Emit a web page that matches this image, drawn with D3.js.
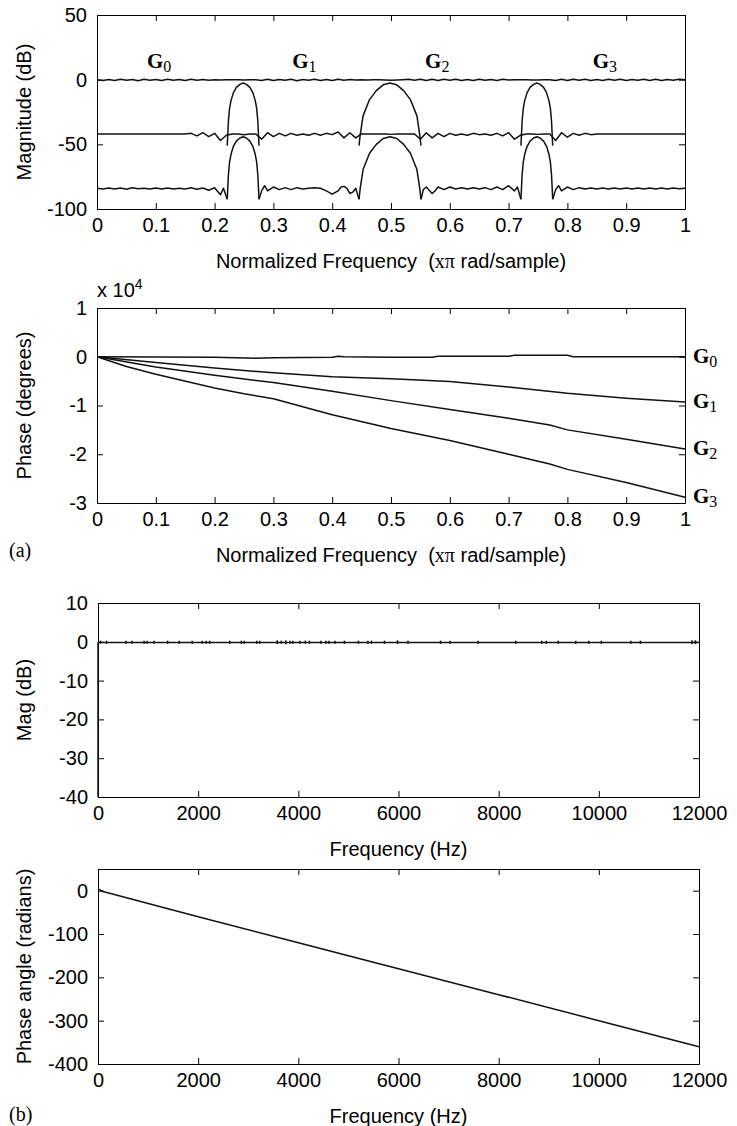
<!DOCTYPE html>
<html>
<head>
<meta charset="utf-8">
<script src="https://cdn.jsdelivr.net/npm/d3@7"></script>
<style>
  body { margin: 0; background: #fff; }
  svg { display: block; font-family: "Liberation Sans", Arial, Helvetica, sans-serif; }
  .axis text { font-size: 20px; fill: #000; }
  .axis path, .axis line { stroke: #000; stroke-width: 1; }
  .curve { fill: none; stroke: #111; stroke-width: 1.5; stroke-linejoin: round; }
  .title { font-size: 20px; fill: #000; white-space: pre; }
  .glab { font-family: "Liberation Serif", "Times New Roman", serif; fill: #000; }
</style>
</head>
<body>
<div id="chart"></div>
<script>

// ---------- (a) top: magnitude of G0..G3 ----------
var normTicks = [0, 0.1, 0.2, 0.3, 0.4, 0.5, 0.6, 0.7, 0.8, 0.9, 1];
var magTicks = [50, 0, -50, -100];

var normFreq = [0,0.01,0.02,0.03,0.04,0.05,0.06,0.07,0.08,0.09,
  0.1,0.11,0.12,0.13,0.14,0.15,0.16,0.17,0.18,0.19,
  0.2,0.21,0.22,0.23,0.24,0.25,0.26,0.27,0.28,0.29,
  0.3,0.31,0.32,0.33,0.34,0.35,0.36,0.37,0.38,0.39,
  0.4,0.41,0.42,0.43,0.44,0.45,0.46,0.47,0.48,0.49,
  0.5,0.51,0.52,0.53,0.54,0.55,0.56,0.57,0.58,0.59,
  0.6,0.61,0.62,0.63,0.64,0.65,0.66,0.67,0.68,0.69,
  0.7,0.71,0.72,0.73,0.74,0.75,0.76,0.77,0.78,0.79,
  0.8,0.81,0.82,0.83,0.84,0.85,0.86,0.87,0.88,0.89,
  0.9,0.91,0.92,0.93,0.94,0.95,0.96,0.97,0.98,0.99,1];

// passband level (0 dB) with ripple
var magTop = [0,-0.6,0.2,-0.7,0.3,-0.5,0.2,-0.8,0.3,-0.4,
  0.2,-0.7,0.3,-0.5,0.2,-0.7,0.3,-0.5,0.1,-0.4,
  0,-0.2,0,0,-0.1,-0.3,-0.1,0,-0.6,0.3,
  -0.7,0.2,-0.5,0.3,-0.8,0.2,-0.5,0.3,-0.6,0.2,
  -0.7,0.3,-0.5,0.2,-0.3,0,-0.2,-0.1,0,-0.2,
  -0.4,-0.2,0,0.3,-0.5,0.3,-0.6,0.4,-0.7,0.3,
  -0.5,0.3,-0.7,0.2,-0.6,0.4,-0.5,0.2,-0.6,0.3,
  -0.3,0,-0.1,0,-0.2,-0.3,-0.1,0,-0.6,0.3,
  -0.7,0.4,-0.5,0.3,-0.7,0.2,-0.6,0.4,-0.5,0.3,
  -0.7,0.2,-0.5,0.4,-0.6,0.3,-0.7,0.2,-0.5,0.3,0];

// middle level (about -42 dB)
var magMid = [-42,-42,-42,-42,-42,-42,-42,-42,-42,-42,
  -42,-42,-42,-42,-42,-42,-41.5,-43.5,-41,-44,
  -41.5,-47,-43,-42,-42,-42.5,-42,-42,-46,-41,
  -44,-41.5,-43.5,-41.5,-43,-42,-43,-41.5,-43,-41.5,
  -42.5,-40.5,-45,-41,-45,-42,-42,-42,-42,-42,
  -42.3,-42,-42,-42,-42,-46,-41,-45,-41.5,-44,
  -41.5,-43,-42,-43,-41.5,-42.5,-42,-43,-41.5,-43.5,
  -41,-46,-43,-42,-42,-42.3,-42,-42,-47,-41,
  -44.5,-41.5,-43,-41.5,-42.5,-42,-42,-42,-42,-42,
  -42,-42,-42,-42,-42,-42,-42,-42,-42,-42,-42];

// lowest level (about -84 dB), broken by the lobes
var magLowA = [[0,-84],[0.01,-84.6],[0.02,-83.7],[0.03,-84.5],[0.04,-83.8],[0.05,-84.7],
  [0.06,-83.6],[0.07,-84.4],[0.08,-83.9],[0.09,-84.6],[0.1,-83.7],[0.11,-84.5],
  [0.12,-83.8],[0.13,-84.6],[0.14,-83.9],[0.15,-84.5],[0.16,-83.6],[0.17,-84.7],
  [0.18,-83.8],[0.19,-85.5],[0.2,-83.5],[0.21,-89],[0.215,-84],[0.2215,-92.5]];
var magLowB = [[0.2755,-92.5],[0.28,-86],[0.285,-82],[0.29,-86],[0.3,-83],[0.31,-85],
  [0.32,-83.5],[0.33,-85],[0.34,-83.5],[0.35,-84.5],[0.36,-84],[0.37,-83.5],[0.38,-84],
  [0.39,-86],[0.4,-88.5],[0.41,-86],[0.415,-83],[0.42,-82.5],[0.425,-84],[0.43,-88],
  [0.435,-87],[0.44,-84],[0.4456,-92.5]];
var magLowC = [[0.551,-92.5],[0.555,-85],[0.56,-83],[0.57,-88],[0.575,-86],[0.58,-83],
  [0.59,-85],[0.6,-83],[0.61,-84.5],[0.62,-83.5],[0.63,-84.5],[0.64,-83.5],[0.65,-84.5],
  [0.66,-83.5],[0.67,-85],[0.68,-83],[0.69,-85],[0.7,-82],[0.71,-86],[0.715,-83],[0.721,-92.5]];
var magLowD = [[0.775,-92.5],[0.78,-85],[0.785,-82],[0.79,-86],[0.8,-83],[0.81,-85],
  [0.82,-83.5],[0.83,-84.6],[0.84,-83.7],[0.85,-84.5],[0.86,-83.8],[0.87,-84.6],
  [0.88,-83.7],[0.89,-84.5],[0.9,-83.8],[0.91,-84.6],[0.92,-83.7],[0.93,-84.5],
  [0.94,-83.8],[0.95,-84.6],[0.96,-83.7],[0.97,-84.5],[0.98,-83.8],[0.99,-84.4],[1,-84]];

// transition lobes, upper and lower copies
var lobeUpper = [
  [[0.2215,-51],[0.2235,-32],[0.2255,-22],[0.228,-16],[0.232,-10],[0.237,-6],[0.243,-3.6],
   [0.2485,-2.6],[0.254,-3.6],[0.26,-6],[0.265,-10],[0.269,-16],[0.2715,-22],[0.2735,-32],[0.2755,-51]],
  [[0.4456,-51],[0.4475,-43],[0.4525,-28],[0.4635,-15.4],[0.475,-8.5],[0.4868,-4],[0.4983,-2.6],
   [0.5097,-4],[0.5215,-8.5],[0.533,-15.4],[0.5441,-28],[0.549,-43],[0.551,-51]],
  [[0.721,-51],[0.723,-32],[0.725,-22],[0.7275,-16],[0.7315,-10],[0.7365,-6],[0.7425,-3.6],
   [0.748,-2.6],[0.7535,-3.6],[0.7595,-6],[0.7645,-10],[0.7685,-16],[0.771,-22],[0.773,-32],[0.775,-51]]
];
var lobeLower = [
  [[0.2215,-92.5],[0.2235,-73.5],[0.2255,-63.5],[0.228,-57.5],[0.232,-51.5],[0.237,-47.5],[0.243,-45.1],
   [0.2485,-44.1],[0.254,-45.1],[0.26,-47.5],[0.265,-51.5],[0.269,-57.5],[0.2715,-63.5],[0.2735,-73.5],[0.2755,-92.5]],
  [[0.4456,-92.5],[0.4475,-84.5],[0.4525,-69.5],[0.4635,-56.9],[0.475,-50],[0.4868,-45.5],[0.4983,-44.1],
   [0.5097,-45.5],[0.5215,-50],[0.533,-56.9],[0.5441,-69.5],[0.549,-84.5],[0.551,-92.5]],
  [[0.721,-92.5],[0.723,-73.5],[0.725,-63.5],[0.7275,-57.5],[0.7315,-51.5],[0.7365,-47.5],[0.7425,-45.1],
   [0.748,-44.1],[0.7535,-45.1],[0.7595,-47.5],[0.7645,-51.5],[0.7685,-57.5],[0.771,-63.5],[0.773,-73.5],[0.775,-92.5]]
];

var gNames = ["0", "1", "2", "3"];
var gMagLabelX = [0.085, 0.332, 0.558, 0.843];
var gMagLabelY = 9;

// ---------- (a) bottom: phase of G0..G3 (x 10^4 degrees) ----------
var phaseTicks = [1, 0, -1, -2, -3];
var phaseG0 = [[0,0],[0.2,-0.01],[0.27,-0.03],[0.3,-0.02],[0.4,-0.01],[0.41,0.01],[0.42,0],[0.5,-0.01],
  [0.57,-0.01],[0.58,0.01],[0.7,0.01],[0.71,0.03],[0.8,0.03],[0.81,0],[1,0]];
var phaseG1 = [[0,0],[0.1,-0.12],[0.2,-0.23],[0.3,-0.33],[0.4,-0.41],[0.5,-0.45],[0.6,-0.51],
  [0.7,-0.62],[0.8,-0.75],[0.9,-0.85],[1,-0.93]];
var phaseG2 = [[0,0],[0.1,-0.21],[0.2,-0.38],[0.3,-0.53],[0.4,-0.71],[0.5,-0.9],[0.6,-1.08],
  [0.7,-1.26],[0.77,-1.4],[0.8,-1.5],[0.9,-1.69],[1,-1.89]];
var phaseG3 = [[0,0],[0.05,-0.2],[0.1,-0.36],[0.2,-0.64],[0.25,-0.76],[0.3,-0.86],[0.4,-1.19],[0.5,-1.47],
  [0.6,-1.72],[0.7,-2.0],[0.77,-2.2],[0.8,-2.31],[0.9,-2.58],[1,-2.88]];

// ---------- (b) overall response ----------
var hzTicks = [0, 2000, 4000, 6000, 8000, 10000, 12000];
var magDbTicks = [10, 0, -10, -20, -30, -40];
var angleTicks = [0, -100, -200, -300, -400];

var overallMag = [[0,-40],[0,-0.2],[12000,-0.2]];
var magSpikeHz = [50,170,560,680,920,980,1120,1390,1620,1880,2080,2160,2230,2630,2860,2920,
  3170,3230,3580,3660,3750,3830,3890,4030,4140,4220,4450,4550,4610,4730,4920,5200,5390,5460,
  5720,5980,6190,6840,7030,7590,8340,8860,8950,9190,9540,9800,10050,10640,10830,11860,11930];
var magSpikeDb = [0.3,0.3,0.3,0.3,0.3,0.3,0.3,0.3,0.3,0.3,0.3,0.3,0.3,0.3,0.3,0.3,
  0.3,0.3,0.4,0.3,0.4,0.3,0.3,0.3,0.3,0.3,0.3,0.3,0.3,0.3,0.3,0.3,0.3,0.3,
  0.3,0.4,0.3,0.3,0.3,0.3,0.3,0.3,0.3,0.3,0.3,0.3,0.3,0.3,0.3,0.4,0.4];

var overallPhase = [[0,4],[100,-2],[2000,-60],[4000,-120],[6000,-180],[8000,-240],[10000,-300],[12000,-360]];


var svg = d3.select("#chart").append("svg")
    .attr("width", 737)
    .attr("height", 1126);

function fmt(d) { return String(d); }

// box with inward ticks on all four sides
function panel(o) {
  var x = d3.scaleLinear().domain(o.xDomain).range([o.left, o.right]);
  var y = d3.scaleLinear().domain(o.yDomain).range([o.bottom, o.top]);
  var g = svg.append("g");

  g.append("g").attr("class", "axis")
    .attr("transform", "translate(0," + o.bottom + ")")
    .call(d3.axisBottom(x).tickValues(o.xTicks).tickSizeInner(-6).tickSizeOuter(0).tickPadding(9).tickFormat(fmt));
  g.append("g").attr("class", "axis")
    .attr("transform", "translate(0," + o.top + ")")
    .call(d3.axisTop(x).tickValues(o.xTicks).tickSizeInner(-6).tickSizeOuter(0).tickFormat(""));
  g.append("g").attr("class", "axis")
    .attr("transform", "translate(" + o.left + ",0)")
    .call(d3.axisLeft(y).tickValues(o.yTicks).tickSizeInner(-6).tickSizeOuter(0).tickPadding(10).tickFormat(fmt));
  g.append("g").attr("class", "axis")
    .attr("transform", "translate(" + o.right + ",0)")
    .call(d3.axisRight(y).tickValues(o.yTicks).tickSizeInner(-6).tickSizeOuter(0).tickFormat(""));

  g.selectAll(".axis text").attr("font-size", 20);

  // x title
  g.append("text").attr("class", "title")
    .attr("x", (o.left + o.right) / 2)
    .attr("y", o.bottom + 59)
    .attr("text-anchor", "middle")
    .call(o.xTitle);

  // y title
  g.append("text").attr("class", "title")
    .attr("transform", "translate(24," + ((o.top + o.bottom) / 2) + ") rotate(-90)")
    .attr("text-anchor", "middle")
    .attr("dy", "0.35em")
    .text(o.yTitle);

  return {x: x, y: y, g: g};
}

function normTitle(t) {
  t.append("tspan").text("Normalized Frequency  (");
  t.append("tspan").attr("font-family", "'Liberation Serif', 'Times New Roman', serif").text("x\u03c0");
  t.append("tspan").text(" rad/sample)");
}
function hzTitle(t) { t.text("Frequency (Hz)"); }

function drawLine(p, data, w) {
  var line = d3.line().x(function(d) { return p.x(d[0]); }).y(function(d) { return p.y(d[1]); });
  p.g.append("path").attr("class", "curve").attr("d", line(data)).attr("stroke-width", w || 1.5);
}

// ---- panel 1
var p1 = panel({left: 97, right: 685, top: 15, bottom: 209,
  xDomain: [0, 1], yDomain: [-100, 50], xTicks: normTicks, yTicks: magTicks,
  xTitle: normTitle, yTitle: "Magnitude (dB)"});

drawLine(p1, normFreq.map(function(f, i) { return [f, magTop[i]]; }));
drawLine(p1, normFreq.map(function(f, i) { return [f, magMid[i]]; }));
[magLowA, magLowB, magLowC, magLowD].forEach(function(s) { drawLine(p1, s); });
lobeUpper.forEach(function(s) { drawLine(p1, s); });
lobeLower.forEach(function(s) { drawLine(p1, s); });

gNames.forEach(function(n, i) {
  var t = p1.g.append("text").attr("class", "glab")
    .attr("x", p1.x(gMagLabelX[i]))
    .attr("y", p1.y(gMagLabelY));
  t.append("tspan").attr("font-weight", "bold").attr("font-size", 21).text("G");
  t.append("tspan").attr("font-size", 16).attr("dy", 4).text(n);
});

// ---- panel 2
var p2 = panel({left: 97, right: 685, top: 308, bottom: 503,
  xDomain: [0, 1], yDomain: [-3, 1], xTicks: normTicks, yTicks: phaseTicks,
  xTitle: normTitle, yTitle: "Phase (degrees)"});

var phaseSeries = [phaseG0, phaseG1, phaseG2, phaseG3];
phaseSeries.forEach(function(s) { drawLine(p2, s, 1.6); });

phaseSeries.forEach(function(s, i) {
  var last = s[s.length - 1];
  var t = p2.g.append("text").attr("class", "glab")
    .attr("x", p2.x(1) + 8)
    .attr("y", p2.y(last[1]) + 6);
  t.append("tspan").attr("font-weight", "bold").attr("font-size", 21).text("G");
  t.append("tspan").attr("font-size", 16).attr("dy", 4).text(gNames[i]);
});

var sci = p2.g.append("text").attr("class", "title")
  .attr("x", 97).attr("y", 297);
sci.append("tspan").text("x 10");
sci.append("tspan").attr("font-size", 14).attr("dy", -8).text("4");

svg.append("text").attr("class", "glab")
  .attr("x", 9).attr("y", 557).attr("font-size", 20).text("(a)");

// ---- panel 3
var p3 = panel({left: 98, right: 699, top: 603, bottom: 797,
  xDomain: [0, 12000], yDomain: [-40, 10], xTicks: hzTicks, yTicks: magDbTicks,
  xTitle: hzTitle, yTitle: "Mag (dB)"});

drawLine(p3, overallMag, 1.9);
p3.g.append("g").selectAll("line")
  .data(magSpikeHz)
  .enter()
  .append("line")
  .attr("x1", function(d) { return p3.x(d); })
  .attr("x2", function(d) { return p3.x(d); })
  .attr("y1", function(d, i) { return p3.y(magSpikeDb[i]); })
  .attr("y2", function(d, i) { return p3.y(-magSpikeDb[i] - 0.2); })
  .attr("stroke", "#111")
  .attr("stroke-width", 1.5);

// ---- panel 4
var p4 = panel({left: 98, right: 699, top: 869, bottom: 1064,
  xDomain: [0, 12000], yDomain: [-400, 50], xTicks: hzTicks, yTicks: angleTicks,
  xTitle: hzTitle, yTitle: "Phase angle (radians)"});

drawLine(p4, overallPhase, 1.9);

svg.append("text").attr("class", "glab")
  .attr("x", 9).attr("y", 1121).attr("font-size", 20).text("(b)");

</script>
</body>
</html>
